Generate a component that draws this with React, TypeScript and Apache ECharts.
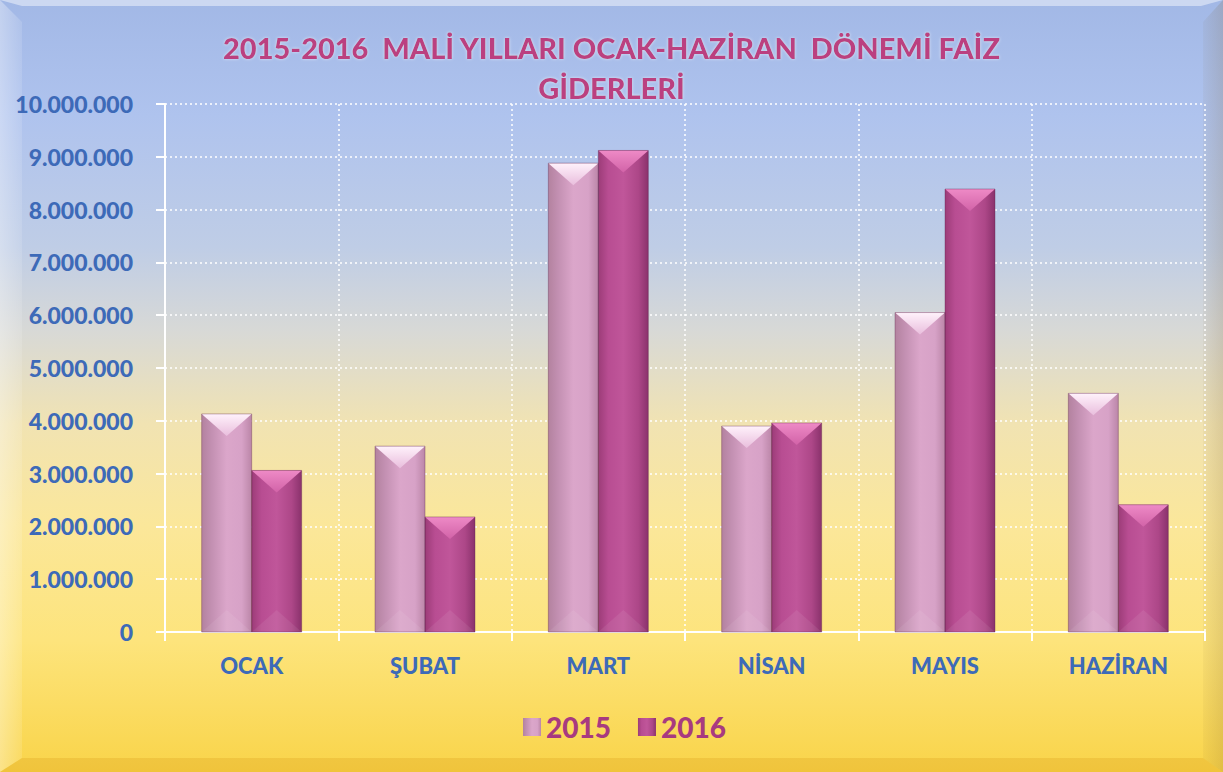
import React, { useEffect, useRef } from "react";
import * as echarts from "echarts";

const categories = ["OCAK", "ŞUBAT", "MART", "NİSAN", "MAYIS", "HAZİRAN"];
const seriesNames = ["2015", "2016"];
const values2015 = [4130000, 3520000, 8880000, 3900000, 6050000, 4520000];
const values2016 = [3060000, 2180000, 9120000, 3960000, 8390000, 2410000];
const yMin = 0;
const yMax = 10000000;
const yInterval = 1000000;
const titleLines = ["2015-2016  MALİ YILLARI OCAK-HAZİRAN  DÖNEMİ FAİZ", "GİDERLERİ"];

const W = 1223;
const H = 772;
const BAR_W = 50;

const fmt = (v: number) => {
  if (v === 0) return "0";
  return String(Math.round(v)).replace(/\B(?=(\d{3})+(?!\d))/g, ".");
};

const grad = (x: number, y: number, x2: number, y2: number, stops: [number, string][]) =>
  new echarts.graphic.LinearGradient(x, y, x2, y2, stops.map(([offset, color]) => ({ offset, color })));

const color2015 = () =>
  grad(0, 0, 1, 0, [
    [0, "#b3829f"],
    [0.2, "#c390b2"],
    [0.5, "#dba6ca"],
    [0.8, "#d7a2c7"],
    [1, "#bb86a8"],
  ]);
const color2016 = () =>
  grad(0, 0, 1, 0, [
    [0, "#9c3c78"],
    [0.2, "#b84d92"],
    [0.5, "#c0569a"],
    [0.8, "#ad4788"],
    [1, "#8a326c"],
  ]);

const bevelSeries = (name: string, values: number[], offset: number, topA: string, topB: string) => ({
  type: "custom",
  name,
  silent: true,
  z: 5,
  encode: { x: 0, y: 1 },
  data: values.map((v, i) => [i, v]),
  renderItem: (params: any, api: any) => {
    const idx = api.value(0);
    const v = api.value(1);
    const top = api.coord([idx, v]);
    const base = api.coord([idx, 0]);
    const cx = top[0] + offset;
    const l = cx - BAR_W / 2;
    const r = cx + BAR_W / 2;
    const t = top[1];
    const b = base[1];
    const tri = Math.min(22, (b - t) / 2);
    return {
      type: "group",
      children: [
        {
          type: "polygon",
          shape: { points: [[l, t], [r, t], [cx, t + tri]] },
          style: { fill: grad(0, 0, 0, 1, [[0, topA], [1, topB]]) },
        },
        {
          type: "polygon",
          shape: { points: [[l, b], [r, b], [cx, b - tri]] },
          style: { fill: "rgba(255,255,255,0.07)" },
        },
        {
          type: "rect",
          shape: { x: l, y: t, width: BAR_W, height: b - t },
          style: { fill: "none", stroke: "rgba(90,30,70,0.35)", lineWidth: 1 },
        },
      ],
    };
  },
});

export default function App() {
  const ref = useRef<HTMLDivElement>(null);

  useEffect(() => {
    document.body.style.margin = "0";
    if (!ref.current) return;
    const chart = echarts.init(ref.current, undefined, { renderer: "svg" });

    const option: any = {
      animation: false,
      graphic: [
        {
          type: "rect",
          z: -10,
          silent: true,
          shape: { x: 0, y: 0, width: W, height: H },
          style: {
            fill: grad(0, 0, 0, 1, [
              [0, "#a2b8e6"],
              [0.15, "#afc3ee"],
              [0.32, "#bfcde6"],
              [0.43, "#d8d9d6"],
              [0.55, "#f1e3b2"],
              [0.68, "#fbe79a"],
              [0.83, "#fde47c"],
              [1, "#f9d449"],
            ]),
          },
        },
        {
          type: "polygon",
          z: -9,
          silent: true,
          shape: { points: [[0, 0], [W, 0], [W - 22, 6], [22, 6]] },
          style: { fill: "rgba(255,255,255,0.45)" },
        },
        {
          type: "polygon",
          z: -9,
          silent: true,
          shape: { points: [[0, 0], [22, 22], [22, H - 14], [0, H]] },
          style: {
            fill: grad(0, 0, 1, 0, [
              [0, "rgba(255,255,255,0.35)"],
              [1, "rgba(255,255,255,0.12)"],
            ]),
          },
        },
        {
          type: "polygon",
          z: -9,
          silent: true,
          shape: { points: [[W, 0], [W, H], [W - 20, H - 14], [W - 20, 22]] },
          style: {
            fill: grad(0, 0, 1, 0, [
              [0, "rgba(120,90,40,0.05)"],
              [1, "rgba(120,90,40,0.18)"],
            ]),
          },
        },
        {
          type: "polygon",
          z: -9,
          silent: true,
          shape: { points: [[0, H], [W, H], [W - 20, H - 14], [22, H - 14]] },
          style: { fill: "rgba(200,130,0,0.18)" },
        },
      ],
      title: {
        text: titleLines.join("\n"),
        left: "center",
        top: 22,
        textStyle: {
          fontFamily: "Lato",
          fontWeight: 900,
          fontSize: 29,
          lineHeight: 40,
          color: "#bb4180",
          textShadowColor: "rgba(255,255,255,0.6)",
          textShadowBlur: 3,
        },
      },
      legend: {
        data: seriesNames,
        left: 518,
        top: 708,
        itemWidth: 18,
        itemHeight: 18,
        itemGap: 27,
        icon: "rect",
        textStyle: {
          fontFamily: "Lato",
          fontWeight: 900,
          fontSize: 28,
          color: "#a83a80",
        },
      },
      grid: { left: 165, right: 18, top: 104, bottom: 140, containLabel: false },
      xAxis: {
        type: "category",
        data: categories,
        axisLine: { show: true, lineStyle: { color: "#ffffff", width: 2 } },
        axisTick: { show: true, length: 9, lineStyle: { color: "#ffffff", width: 2 } },
        axisLabel: {
          margin: 22,
          fontFamily: "Lato",
          fontWeight: 900,
          fontSize: 22,
          color: "#3d6ab8",
        },
        splitLine: { show: true, lineStyle: { color: "#ffffff", type: [2, 3], width: 1.5 } },
      },
      yAxis: {
        type: "value",
        min: yMin,
        max: yMax,
        interval: yInterval,
        axisLine: { show: true, lineStyle: { color: "#ffffff", width: 2 } },
        axisTick: { show: true, length: 9, lineStyle: { color: "#ffffff", width: 2 } },
        axisLabel: {
          margin: 32,
          fontFamily: "Lato",
          fontWeight: 900,
          fontSize: 23,
          color: "#3d6ab8",
          formatter: (v: number) => fmt(v),
        },
        splitLine: { show: true, lineStyle: { color: "#ffffff", type: [2, 3], width: 1.5 } },
      },
      series: [
        {
          type: "bar",
          name: seriesNames[0],
          data: values2015,
          barWidth: BAR_W,
          barGap: "0%",
          itemStyle: { color: color2015() },
        },
        {
          type: "bar",
          name: seriesNames[1],
          data: values2016,
          barWidth: BAR_W,
          barGap: "0%",
          itemStyle: { color: color2016() },
        },
        bevelSeries("bevel2015", values2015, -BAR_W / 2, "#fff2fb", "#e9bedd"),
        bevelSeries("bevel2016", values2016, BAR_W / 2, "#ee8ac6", "#d263a8"),
      ],
    };

    chart.setOption(option);
    return () => chart.dispose();
  }, []);

  return <div ref={ref} style={{ width: W, height: H }} />;
}
